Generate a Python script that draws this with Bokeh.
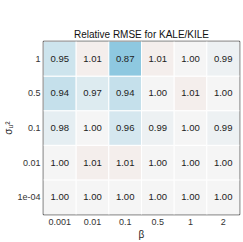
from bokeh.plotting import figure
from bokeh.models import ColumnDataSource, LinearColorMapper, FactorRange
from bokeh.core.properties import value
from bokeh.embed import file_html
from bokeh.resources import INLINE

betas = ["0.001", "0.01", "0.1", "0.5", "1", "2"]
sigmas = ["1e-04", "0.01", "0.1", "0.5", "1"]  # bottom to top

# rows: sigma value -> values across betas
vals_1 = [0.95, 1.01, 0.87, 1.01, 1.00, 0.99]
vals_05 = [0.94, 0.97, 0.94, 1.00, 1.01, 1.00]
vals_01 = [0.98, 1.00, 0.96, 0.99, 1.00, 0.99]
vals_001 = [1.00, 1.01, 1.01, 1.00, 1.00, 1.00]
vals_1e4 = [1.00, 1.00, 1.00, 1.00, 1.00, 1.00]

rows = {"1": vals_1, "0.5": vals_05, "0.1": vals_01, "0.01": vals_001, "1e-04": vals_1e4}

xs, ys, vs, labels = [], [], [], []
for s in sigmas:
    for b, v in zip(betas, rows[s]):
        xs.append(b)
        ys.append(s)
        vs.append(v)
        labels.append(f"{v:.2f}")

src = ColumnDataSource(dict(x=xs, y=ys, v=vs, label=labels))

def lerp(c1, c2, t):
    return tuple(round(a + (b - a) * t) for a, b in zip(c1, c2))

blue = (142, 200, 224)
mid = (245, 245, 245)
red = (230, 150, 130)
palette = []
n = 128
for i in range(n):
    palette.append("#%02x%02x%02x" % lerp(blue, mid, i / (n - 1)))
for i in range(1, n):
    palette.append("#%02x%02x%02x" % lerp(mid, red, i / (n - 1)))
mapper = LinearColorMapper(palette=palette, low=0.87, high=1.13)

font = "Liberation Sans"
p = figure(width=243, height=242, x_range=FactorRange(*betas), y_range=FactorRange(*sigmas),
           output_backend="svg", toolbar_location=None,
           min_border_left=38, min_border_right=4, min_border_top=41, min_border_bottom=28)

p.rect(x="x", y="y", width=1, height=1, source=src,
       fill_color={"field": "v", "transform": mapper}, line_color="white", line_width=1)
p.text(x="x", y="y", text="label", source=src, text_align="center", text_baseline="middle",
       text_font=value(font), text_font_size="9.5px", text_color="#222222")

p.title.text = "Relative RMSE for KALE/KILE"
p.title.align = "center"
p.title.text_font = font
p.title.text_font_size = "10px"
p.title.text_font_style = "normal"
p.title.text_color = "#111111"
p.title.standoff = 4

p.outline_line_color = "#333333"
p.outline_line_width = 1.5
p.grid.visible = False
p.background_fill_color = "white"

for ax in (p.xaxis[0], p.yaxis[0]):
    ax.axis_line_color = None
    ax.major_tick_line_color = None
    ax.minor_tick_line_color = None
    ax.major_tick_out = 0
    ax.major_tick_in = 0
    ax.minor_tick_out = 0
    ax.major_label_text_font = font
    ax.major_label_text_font_size = "9px"
    ax.major_label_text_color = "#333333"
    ax.major_label_text_line_height = 0.9
    ax.axis_label_text_font = font
    ax.axis_label_text_font_size = "10px"
    ax.axis_label_text_font_style = "normal"
    ax.axis_label_text_color = "#222222"
    ax.axis_label_text_line_height = 0.9

p.xaxis.major_label_standoff = 4
p.xaxis.axis_label = "β"
p.xaxis.axis_label_standoff = 1
p.yaxis.major_label_standoff = 3
p.yaxis.axis_label = "σᵤ²"
p.yaxis.axis_label_standoff = 0

open("out.html", "w").write(file_html(p, INLINE))
